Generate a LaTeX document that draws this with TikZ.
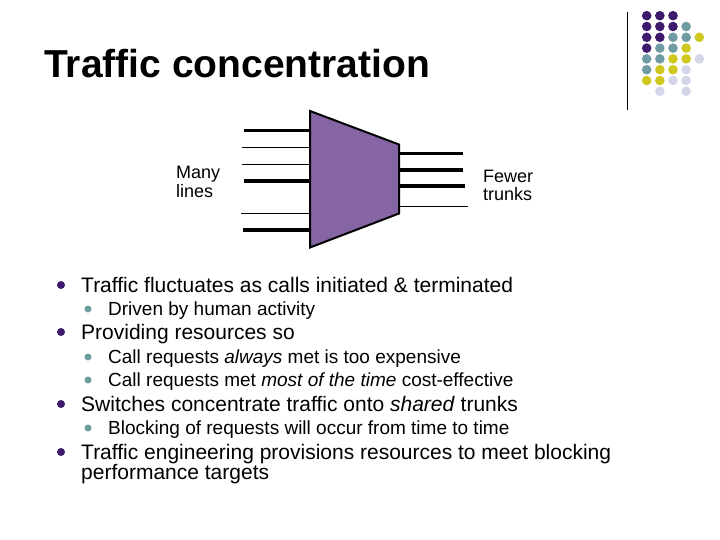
\documentclass[tikz,border=0pt]{standalone}
\usepackage{fontspec}
\setmainfont{Liberation Sans}
\definecolor{dotP}{HTML}{3D1A6B}
\definecolor{dotT}{HTML}{6F9CA3}
\definecolor{dotY}{HTML}{CFC81E}
\definecolor{dotL}{HTML}{D3D5E8}
\definecolor{muxfill}{HTML}{8565A3}
\tikzset{
  dot/.style={circle, inner sep=0pt, minimum size=9.6pt, fill=#1},
  thickline/.style={line width=3.6pt},
  thinline/.style={line width=0.8pt},
  bigbullet/.style={circle, inner sep=0pt, minimum size=8pt, fill=dotP},
  smallbullet/.style={circle, inner sep=0pt, minimum size=7pt, fill=dotT},
  bigitem/.style={anchor=base west, inner sep=0pt, font=\fontsize{21}{21}\selectfont},
  smallitem/.style={anchor=base west, inner sep=0pt, font=\fontsize{19}{19}\selectfont},
  sidelabel/.style={anchor=base west, inner sep=0pt, font=\fontsize{18}{18}\selectfont},
}
\begin{document}
\begin{tikzpicture}[x=1pt, y=-1pt]
  \useasboundingbox (0, 0) rectangle (720, 540);
  \node[anchor=base west, inner sep=0pt, font=\bfseries\fontsize{39}{39}\selectfont] (title) at (44, 78) {Traffic concentration};
  % corner decoration
  \coordinate (rule1) at (627.5, 12);
  \coordinate (rule2) at (627.5, 110);
  \draw[line width=0.9pt] (rule1) -- (rule2);
  \foreach \col/\row/\c in {0/0/dotP, 1/0/dotP, 2/0/dotP,
      0/1/dotP, 1/1/dotP, 2/1/dotP, 3/1/dotT,
      0/2/dotP, 1/2/dotP, 2/2/dotT, 3/2/dotT, 4/2/dotY,
      0/3/dotP, 1/3/dotT, 2/3/dotT, 3/3/dotY,
      0/4/dotT, 1/4/dotT, 2/4/dotY, 3/4/dotY, 4/4/dotL,
      0/5/dotT, 1/5/dotY, 2/5/dotY, 3/5/dotL,
      0/6/dotY, 1/6/dotY, 2/6/dotL, 3/6/dotL,
      1/7/dotL, 3/7/dotL}
    \node[dot=\c] (d\col\row) at (646.7+13.15*\col, 15.7+10.8*\row) {};
  % concentrator
  \coordinate (m1) at (310, 111);
  \coordinate (m2) at (399, 144.5);
  \coordinate (m3) at (399, 213.5);
  \coordinate (m4) at (310, 247.5);
  \coordinate (l1) at (244, 130.7);
  \coordinate (l2) at (242, 147.5);
  \coordinate (l3) at (242, 164.5);
  \coordinate (l4) at (244, 181);
  \coordinate (l5) at (241, 213.5);
  \coordinate (l6) at (243, 230);
  \coordinate (r1) at (463, 153.7);
  \coordinate (r2) at (463, 170);
  \coordinate (r3) at (465, 186);
  \coordinate (r4) at (468, 206.5);
  \draw[thickline] (l1) -- (m1 |- l1);
  \draw[thinline] (l2) -- (m1 |- l2);
  \draw[thinline] (l3) -- (m1 |- l3);
  \draw[thickline] (l4) -- (m1 |- l4);
  \draw[thinline] (l5) -- (m1 |- l5);
  \draw[thickline] (l6) -- (m1 |- l6);
  \draw[thickline] (r1) -- (m2 |- r1);
  \draw[thickline] (r2) -- (m2 |- r2);
  \draw[thickline] (r3) -- (m2 |- r3);
  \draw[thinline] (r4) -- (m2 |- r4);
  \draw[line width=2pt, fill=muxfill] (m1) -- (m2) -- (m3) -- (m4) -- cycle;
  \node[sidelabel] (many) at (176, 179) {Many};
  \node[sidelabel] (lines) at (176, 197) {lines};
  \node[sidelabel] (fewer) at (483, 183) {Fewer};
  \node[sidelabel] (trunks) at (483, 201) {trunks};
  % bullet list
  \node[bigbullet] (b1) at (61, 285) {};
  \node[bigitem] (t1) at (81, 292) {Traffic fluctuates as calls initiated \& terminated};
  \node[smallbullet] (b2) at (88, 309) {};
  \node[smallitem] (t2) at (108, 315) {Driven by human activity};
  \node[bigbullet] (b3) at (61, 332) {};
  \node[bigitem] (t3) at (81, 339) {Providing resources so};
  \node[smallbullet] (b4) at (88, 357) {};
  \node[smallitem] (t4) at (108, 363) {Call requests \textit{always} met is too expensive};
  \node[smallbullet] (b5) at (88, 380) {};
  \node[smallitem] (t5) at (108, 386) {Call requests met \textit{most of the time} cost-effective};
  \node[bigbullet] (b6) at (61, 404) {};
  \node[bigitem] (t6) at (81, 411) {Switches concentrate traffic onto \textit{shared} trunks};
  \node[smallbullet] (b7) at (88, 428) {};
  \node[smallitem] (t7) at (108, 434) {Blocking of requests will occur from time to time};
  \node[bigbullet] (b8) at (61, 452) {};
  \node[bigitem] (t8) at (81, 459) {Traffic engineering provisions resources to meet blocking};
  \node[bigitem] (t9) at (81, 479) {performance targets};
\end{tikzpicture}
\end{document}
